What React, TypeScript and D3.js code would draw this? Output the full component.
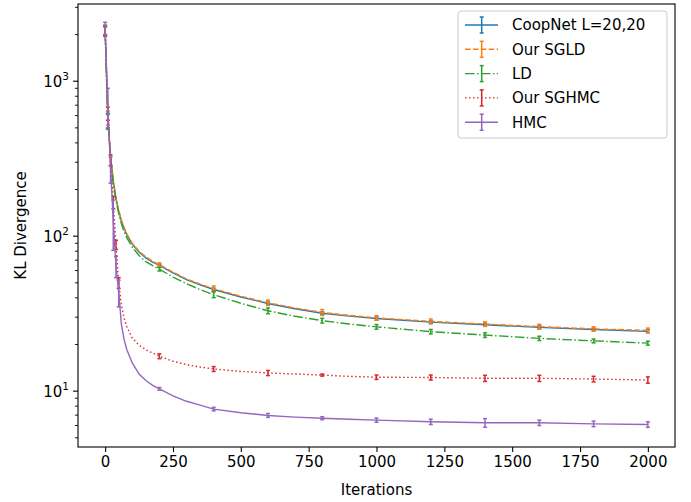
import * as d3 from 'd3';
import {useEffect, useRef} from 'react';

const width = 691;
const height = 502;

// iterations at which the KL divergence was recorded
const iters = [0, 10, 20, 30, 40, 50, 60, 70, 80, 100, 125, 150, 175, 200, 250, 300, 350, 400, 500, 600, 700, 800, 900, 1000, 1200, 1400, 1600, 1800, 2000];

const coopnet = [2150, 560, 330, 225, 175, 145, 125, 112, 102, 89, 79, 72.5, 68, 64.8, 58, 52.5, 48.6, 45.3, 40.5, 36.8, 34.0, 31.8, 30.5, 29.4, 27.9, 26.8, 25.8, 25.0, 24.3];
const coopnetErr = [150, 60, null, null, null, null, null, null, null, null, null, null, null, 1.2, null, null, null, 0.9, null, 0.8, null, 0.7, null, 0.7, 0.6, 0.6, 0.6, 0.5, 0.5];

const sgld = [2120, 580, 335, 228, 177, 147, 127, 113.5, 103.5, 90, 80, 73.5, 69, 65.5, 58.6, 53, 49.1, 45.8, 41, 37.2, 34.4, 32.2, 30.8, 29.7, 28.2, 27.1, 26.1, 25.2, 24.7];
const sgldErr = [150, 60, null, null, null, null, null, null, null, null, null, null, null, 1.8, null, null, null, 1.9, null, 1.5, null, 1.4, null, 1.0, 1.0, 0.9, 0.9, 0.8, 0.8];

const ld = [2100, 550, 320, 218, 170, 140, 120, 107, 97.5, 85, 75, 68.5, 64.5, 61.2, 54.5, 49.3, 45.2, 41.9, 36.9, 33.0, 30.4, 28.5, 27.1, 26.0, 24.2, 23.0, 21.9, 21.1, 20.4];
const ldErr = [150, 60, null, null, null, null, null, null, null, null, null, null, null, 1.6, null, null, null, 1.8, null, 1.4, null, 1.0, null, 0.9, 0.8, 0.8, 0.7, 0.6, 0.6];

const sghmc = [2100, 620, 310, 165, 88, 50, 36, 29.5, 26, 22, 19.8, 18.5, 17.6, 16.8, 15.6, 14.8, 14.3, 13.9, 13.4, 13.1, 12.9, 12.7, 12.45, 12.3, 12.25, 12.1, 12.1, 11.97, 11.8];
const sghmcErr = [150, 60, 25, 15, 6, 4, null, null, null, null, null, null, null, 0.6, null, null, null, 0.5, null, 0.5, null, 0.2, null, 0.4, 0.45, 0.55, 0.55, 0.5, 0.55];

const hmc = [2200, 700, 272, 126, 64, 43.5, 27, 21.5, 18.5, 15.2, 12.9, 11.7, 10.9, 10.35, 9.33, 8.6, 8.12, 7.66, 7.25, 6.97, 6.8, 6.69, 6.58, 6.5, 6.34, 6.25, 6.25, 6.15, 6.09];
const hmcErr = [200, 200, 52, 45, 10, 8.5, null, null, null, null, null, null, null, 0.2, null, null, null, 0.2, null, 0.2, null, 0.15, null, 0.2, 0.25, 0.4, 0.25, 0.25, 0.25];

const xTicks = [0, 250, 500, 750, 1000, 1250, 1500, 1750, 2000];
const yTicks = [10, 100, 1000];

const series = [
  {name: 'CoopNet L=20,20', values: coopnet, err: coopnetErr, color: '#1f77b4', dash: null},
  {name: 'Our SGLD', values: sgld, err: sgldErr, color: '#ff7f0e', dash: '5.5,2.4'},
  {name: 'LD', values: ld, err: ldErr, color: '#2ca02c', dash: '9.6,2.4,1.5,2.4'},
  {name: 'Our SGHMC', values: sghmc, err: sghmcErr, color: '#d62728', dash: '1.5,2.5'},
  {name: 'HMC', values: hmc, err: hmcErr, color: '#9467bd', dash: null},
];

const font = 'DejaVu Sans, sans-serif';

function App() {
  const ref = useRef<HTMLDivElement>(null);

  useEffect(() => {
    document.body.style.margin = '0';
    const left = 78, right = 675, top = 4, bottom = 447;

    const x = d3.scaleLinear().domain([-100, 2100]).range([left, right]);
    const y = d3.scaleLog().domain([4.36, 3150]).range([bottom, top]);

    const svg = d3
      .select(ref.current)
      .append('svg')
      .attr('width', width)
      .attr('height', height)
      .style('display', 'block')
      .style('background', '#fff');

    // lines + error bars
    const clip = svg.append('clipPath').attr('id', 'clip');
    clip.append('rect').attr('x', left).attr('y', top).attr('width', right - left).attr('height', bottom - top);
    const plot = svg.append('g').attr('clip-path', 'url(#clip)');

    series.forEach(s => {
      const pts = iters.map((it, i) => [it, s.values[i]] as [number, number]);
      const line = d3
        .line<[number, number]>()
        .x(d => x(d[0]))
        .y(d => y(d[1]));
      const g = plot.append('g');
      g.append('path')
        .datum(pts)
        .attr('fill', 'none')
        .attr('stroke', s.color)
        .attr('stroke-width', 1.4)
        .attr('stroke-dasharray', s.dash)
        .attr('d', line);

      iters.forEach((it, i) => {
        const e = s.err[i];
        if (e == null) return;
        const cx = x(it);
        const y0 = y(s.values[i] - e);
        const y1 = y(s.values[i] + e);
        g.append('line').attr('x1', cx).attr('x2', cx).attr('y1', y0).attr('y2', y1)
          .attr('stroke', s.color).attr('stroke-width', 1.5);
        [y0, y1].forEach(yy => {
          g.append('line').attr('x1', cx - 2).attr('x2', cx + 2).attr('y1', yy).attr('y2', yy)
            .attr('stroke', s.color).attr('stroke-width', 1.5);
        });
      });
    });

    // frame
    svg.append('rect')
      .attr('x', left).attr('y', top).attr('width', right - left).attr('height', bottom - top)
      .attr('fill', 'none').attr('stroke', '#000').attr('stroke-width', 1.1);

    // x axis
    const xAxis = d3.axisBottom(x).tickValues(xTicks).tickSize(5).tickPadding(4).tickFormat(d3.format('d'));
    const gx = svg.append('g').attr('transform', `translate(0,${bottom})`).call(xAxis);
    gx.select('.domain').remove();
    gx.selectAll('line').attr('stroke', '#000').attr('stroke-width', 1.1);
    gx.selectAll('text').attr('font-family', font).attr('font-size', 15).attr('fill', '#000');

    // y axis, major + minor ticks
    const minor: number[] = [];
    [1, 10, 100, 1000].forEach(d => {
      for (let k = 2; k <= 9; k++) {
        const v = k * d;
        if (v > 4.36 && v < 3150 && !yTicks.includes(v)) minor.push(v);
      }
    });
    const gy = svg.append('g');
    minor.forEach(v => {
      gy.append('line').attr('x1', left - 3).attr('x2', left).attr('y1', y(v)).attr('y2', y(v))
        .attr('stroke', '#000').attr('stroke-width', 0.9);
    });
    yTicks.forEach(v => {
      gy.append('line').attr('x1', left - 5).attr('x2', left).attr('y1', y(v)).attr('y2', y(v))
        .attr('stroke', '#000').attr('stroke-width', 1.1);
      const t = gy.append('text')
        .attr('x', left - 9).attr('y', y(v) + 5.5)
        .attr('text-anchor', 'end')
        .attr('font-family', font).attr('font-size', 15);
      t.append('tspan').text('10');
      t.append('tspan').attr('dy', -7).attr('font-size', 10.5).text(String(Math.round(Math.log10(v))));
    });

    // axis labels
    svg.append('text')
      .attr('x', (left + right) / 2).attr('y', 495)
      .attr('text-anchor', 'middle')
      .attr('font-family', font).attr('font-size', 15)
      .text('Iterations');
    svg.append('text')
      .attr('transform', `translate(26,${(top + bottom) / 2}) rotate(-90)`)
      .attr('text-anchor', 'middle')
      .attr('font-family', font).attr('font-size', 15)
      .text('KL Divergence');

    // legend
    const lg = svg.append('g');
    lg.append('rect')
      .attr('x', 458).attr('y', 11).attr('width', 209).attr('height', 127)
      .attr('rx', 3)
      .attr('fill', '#fff').attr('fill-opacity', 0.8)
      .attr('stroke', '#ccc').attr('stroke-width', 1);
    series.forEach((s, i) => {
      const cy = 25 + i * 24.3;
      lg.append('line').attr('x1', 465).attr('x2', 498).attr('y1', cy).attr('y2', cy)
        .attr('stroke', s.color).attr('stroke-width', 1.4).attr('stroke-dasharray', s.dash);
      lg.append('line').attr('x1', 481.7).attr('x2', 481.7).attr('y1', cy - 8).attr('y2', cy + 8)
        .attr('stroke', s.color).attr('stroke-width', 1.5);
      [cy - 8, cy + 8].forEach(yy => {
        lg.append('line').attr('x1', 479.7).attr('x2', 483.7).attr('y1', yy).attr('y2', yy)
          .attr('stroke', s.color).attr('stroke-width', 1.5);
      });
      lg.append('text')
        .attr('x', 512).attr('y', cy + 5.3)
        .attr('font-family', font).attr('font-size', 15)
        .text(s.name);
    });

    return () => {
      svg.remove();
    };
  }, []);

  return <div ref={ref}></div>;
}

export default App;
